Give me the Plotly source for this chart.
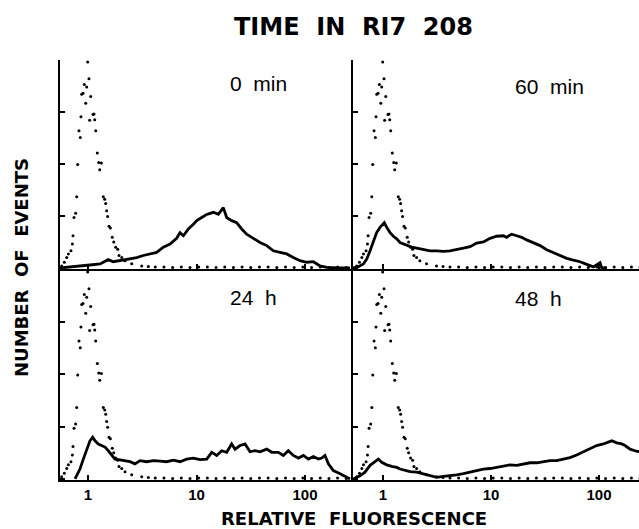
import plotly.graph_objects as go

# ---------------- data (log10 of relative fluorescence, counts) ----------------
# control (dotted) histogram, identical in all four panels
ctrl_lg = [-0.243, -0.218, -0.196, -0.181, -0.157, -0.144, -0.138, -0.129, -0.114, -0.104,
           -0.095, -0.083, -0.071, -0.065, -0.058, -0.046, -0.034, -0.021, -0.012, -0.003,
           0.009, 0.015, 0.025, 0.046, 0.055, 0.062, 0.071, 0.086, 0.099, 0.108, 0.123,
           0.141, 0.154, 0.163, 0.172, 0.181, 0.194, 0.206, 0.224, 0.237, 0.255, 0.274,
           0.286, 0.311, 0.341, 0.403, 0.495, 0.556]
ctrl_n = [4, 11, 20, 27, 33, 46, 62, 97, 105, 137,
          199, 264, 251, 291, 334, 336, 353, 317, 348, 396,
          364, 284, 330, 295, 296, 285, 264, 221, 203, 189, 202,
          137, 132, 124, 110, 99, 80, 77, 59, 50, 40, 36,
          24, 20, 14, 8, 4, 3]
ctrl_tail_lg = [0.62, 0.70, 0.78, 0.86, 0.94, 1.02, 1.10, 1.18, 1.26, 1.34, 1.42, 1.50,
                1.58, 1.66, 1.74, 1.82, 1.90, 1.98, 2.06, 2.14, 2.22, 2.30, 2.38]
ctrl_tail_n = [2, 2, 1, 2, 1, 2, 2, 1, 2, 1, 2, 1, 2, 2, 1, 2, 1, 2, 1, 2, 1, 2, 1]

# 0 min
lg_0min = [-0.258, -0.104, 0.018, 0.111, 0.187, 0.233, 0.295, 0.387, 0.449, 0.510, 0.571,
           0.633, 0.694, 0.756, 0.817, 0.848, 0.879, 0.925, 0.971, 1.002, 1.048, 1.094,
           1.155, 1.201, 1.247, 1.278, 1.324, 1.370, 1.416, 1.462, 1.524, 1.585, 1.647,
           1.708, 1.770, 1.831, 1.892, 1.954, 2.015, 2.077, 2.138, 2.200, 2.323, 2.415]
n_0min = [0, 2.5, 5.7, 7.7, 16, 12, 14, 17, 20, 24, 27,
          30, 40, 46, 57, 68, 62, 75, 84, 91, 97, 103,
          107, 103, 116, 97, 91, 87, 75, 65, 57, 49, 43,
          33, 30, 27, 20, 14, 11, 12, 4, 1, 0, 0]

# 60 min
lg_60min = [-0.275, -0.228, -0.182, -0.151, -0.120, -0.090, -0.059, -0.028, 0.012, 0.034,
            0.065, 0.096, 0.127, 0.157, 0.188, 0.219, 0.265, 0.312, 0.373, 0.435, 0.497,
            0.559, 0.620, 0.682, 0.744, 0.806, 0.867, 0.929, 0.991, 1.052, 1.114, 1.145,
            1.191, 1.238, 1.284, 1.330, 1.392, 1.454, 1.515, 1.577, 1.639, 1.701, 1.762,
            1.824, 1.886, 1.948, 2.009, 2.025, 2.071]
n_60min = [0, 2.5, 7.7, 17, 33, 52, 68, 78, 87, 78,
           68, 61, 56, 49, 46, 43, 40, 38, 35, 33, 33,
           32, 33, 35, 38, 41, 48, 50, 57, 61, 62, 59,
           65, 62, 59, 54, 49, 43, 35, 29, 24, 18.5, 15,
           12, 7, 2, 10, 0, 0]

# 24 h
lg_24h = [-0.120, -0.074, -0.043, -0.012, 0.018, 0.043, 0.065, 0.095, 0.126, 0.157,
          0.187, 0.218, 0.249, 0.280, 0.326, 0.387, 0.433, 0.479, 0.541, 0.602, 0.664,
          0.725, 0.786, 0.848, 0.909, 0.971, 1.032, 1.094, 1.140, 1.186, 1.232, 1.278,
          1.324, 1.355, 1.401, 1.447, 1.493, 1.539, 1.585, 1.647, 1.693, 1.754, 1.800,
          1.846, 1.892, 1.939, 1.985, 2.031, 2.077, 2.123, 2.154, 2.184, 2.215, 2.261,
          2.323, 2.384, 2.415]
n_24h = [0, 19, 38, 57, 73, 80, 73, 67, 64, 61,
         54, 45, 38, 37, 35, 33, 29, 35, 33, 35, 34,
         33, 36, 33, 38, 40, 37, 38, 51, 45, 54, 51,
         67, 57, 64, 67, 52, 54, 52, 57, 51, 51, 45,
         54, 45, 40, 45, 38, 43, 38, 40, 45, 29, 16,
         10, 3, 0]

# 48 h
lg_48h = [-0.275, -0.213, -0.167, -0.120, -0.074, -0.043, -0.012, 0.034, 0.080, 0.127,
          0.157, 0.204, 0.250, 0.312, 0.373, 0.435, 0.497, 0.559, 0.620, 0.682, 0.744,
          0.806, 0.867, 0.929, 0.991, 1.052, 1.114, 1.176, 1.238, 1.299, 1.361, 1.423,
          1.485, 1.546, 1.608, 1.670, 1.731, 1.793, 1.855, 1.917, 1.978, 2.040, 2.086,
          2.117, 2.164, 2.210, 2.241, 2.287, 2.333, 2.370]
n_48h = [0, 6, 13, 26, 33, 38, 32, 27, 24, 22,
         19, 16, 14, 13, 10, 6, 3, 5, 6, 8, 10,
         13, 16, 19, 20, 22, 24, 27, 26, 29, 31, 31,
         33, 35, 35, 38, 41, 46, 52, 57, 64, 67, 70,
         73, 69, 67, 64, 57, 54, 52]

panel_labels = ["0  min", "60  min", "24  h", "48  h"]
tick_vals = [1, 10, 100]
tick_text = ["1", "10", "100"]

# ---------------- figure ----------------
W, H = 639, 529
def px(x):
    return x / W
def py(y):
    return 1 - y / H

fig = go.Figure()

panels = [
    (lg_0min, n_0min, "x", "y"),
    (lg_60min, n_60min, "x2", "y2"),
    (lg_24h, n_24h, "x3", "y3"),
    (lg_48h, n_48h, "x4", "y4"),
]
for lg, n, xa, ya in panels:
    fig.add_trace(go.Scatter(x=[10 ** v for v in ctrl_lg + ctrl_tail_lg], y=ctrl_n + ctrl_tail_n,
                             mode="markers", marker=dict(color="black", size=3),
                             xaxis=xa, yaxis=ya, showlegend=False, hoverinfo="skip"))
    fig.add_trace(go.Scatter(x=[10 ** v for v in lg], y=n, mode="lines",
                             line=dict(color="black", width=2.8),
                             xaxis=xa, yaxis=ya, showlegend=False))

left_dom = [px(60), px(353)]
right_dom = [px(353), px(639)]
top_dom = [py(269), py(60)]
bot_dom = [py(480), py(270)]
left_rng = [-0.258, 2.442]
right_rng = [-0.278, 2.37]

def xax(dom, rng, anchor, labels):
    return dict(domain=dom, range=rng, type="log", anchor=anchor,
                showline=True, linecolor="black", linewidth=2,
                ticks="inside", ticklen=5, tickwidth=1.5, tickcolor="black",
                tickvals=tick_vals, ticktext=tick_text, showticklabels=labels,
                ticklabelstandoff=0,
                tickfont=dict(family="Liberation Sans, Arial", size=15, color="black", weight="bold"),
                showgrid=False, zeroline=False)

def yax(dom, anchor):
    return dict(domain=dom, range=[-2, 400], anchor=anchor,
                showline=True, linecolor="black", linewidth=2,
                ticks="inside", ticklen=5, tickwidth=1.5, tickcolor="black",
                tickvals=[0, 100, 200, 300, 400], showticklabels=False,
                showgrid=False, zeroline=False)

fig.update_layout(
    width=W, height=H, margin=dict(l=0, r=0, t=0, b=0),
    paper_bgcolor="white", plot_bgcolor="white",
    xaxis=xax(left_dom, left_rng, "y", False),
    xaxis2=xax(right_dom, right_rng, "y2", False),
    xaxis3=xax(left_dom, left_rng, "y3", True),
    xaxis4=xax(right_dom, right_rng, "y4", True),
    yaxis=yax(top_dom, "x"),
    yaxis2=yax(top_dom, "x2"),
    yaxis3=yax(bot_dom, "x3"),
    yaxis4=yax(bot_dom, "x4"),
)

label_pos = [(258, 84), (549, 86), (253, 297), (538, 298)]
for txt, (lx, ly) in zip(panel_labels, label_pos):
    fig.add_annotation(x=px(lx), y=py(ly), xref="paper", yref="paper", text=txt,
                       showarrow=False, xanchor="center", yanchor="middle",
                       font=dict(family="Liberation Sans, Arial", size=21, color="black"))

fig.add_annotation(x=px(353), y=py(27), xref="paper", yref="paper", text="TIME  IN  RI7  208",
                   showarrow=False, xanchor="center", yanchor="middle",
                   font=dict(family="DejaVu Sans", size=24, color="black", weight="bold"))
fig.add_annotation(x=px(21), y=py(268), xref="paper", yref="paper", text="NUMBER  OF  EVENTS",
                   showarrow=False, xanchor="center", yanchor="middle", textangle=-90,
                   font=dict(family="DejaVu Sans", size=18, color="black", weight="bold"))
fig.add_annotation(x=px(354), y=py(518), xref="paper", yref="paper", text="RELATIVE  FLUORESCENCE",
                   showarrow=False, xanchor="center", yanchor="middle",
                   font=dict(family="DejaVu Sans", size=18, color="black", weight="bold"))

fig.write_html("out.html")
